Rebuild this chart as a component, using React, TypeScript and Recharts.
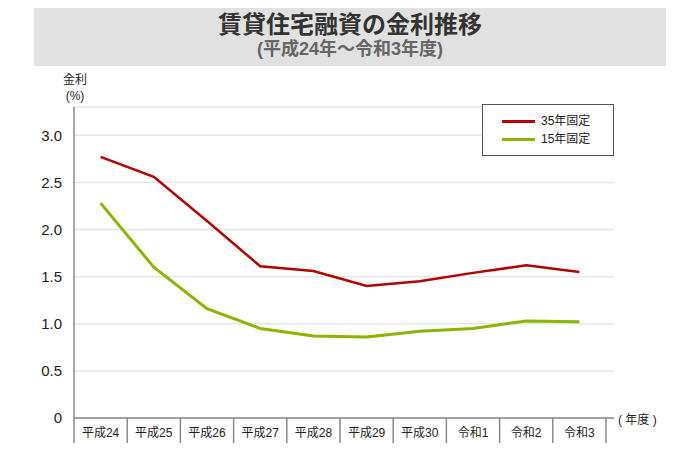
import React from "react";
import { CartesianGrid, Line, LineChart, XAxis, YAxis } from "recharts";

const years = ["平成24", "平成25", "平成26", "平成27", "平成28", "平成29", "平成30", "令和1", "令和2", "令和3"];
const fixed35 = [2.77, 2.56, 2.09, 1.61, 1.56, 1.40, 1.45, 1.54, 1.62, 1.55];
const fixed15 = [2.28, 1.60, 1.16, 0.95, 0.87, 0.86, 0.92, 0.95, 1.03, 1.02];
const yTicks = [0, 0.5, 1.0, 1.5, 2.0, 2.5, 3.0];

const data = years.map((year, i) => ({ year, r35: fixed35[i], r15: fixed15[i] }));

const FONT = "'Liberation Sans', 'Noto Sans CJK JP', sans-serif";
const RED = "#b30000";
const GREEN = "#8cb400";
const AXIS = "#8a8a8a";

function YearTick(props: any) {
  const { x, y, payload, index } = props;
  const half = payload && payload.offset ? payload.offset : 26.6;
  return (
    <g>
      {index === 0 && <line x1={x - half} x2={x - half} y1={y} y2={y + 25} stroke={AXIS} strokeWidth={1.5} />}
      <line x1={x + half} x2={x + half} y1={y} y2={y + 25} stroke={AXIS} strokeWidth={1.5} />
      <text x={x} y={y + 19} textAnchor="middle" fontSize={12} fill="#222" fontFamily={FONT}>
        {payload.value}
      </text>
    </g>
  );
}

function LegendRow({ color, label, top }: { color: string; label: string; top: number }) {
  return (
    <div style={{ position: "absolute", left: 19, top, display: "flex", alignItems: "center", height: 16 }}>
      <div style={{ width: 33, height: 3, background: color, marginRight: 6 }} />
      <span style={{ fontSize: 12, color: "#222", lineHeight: "16px" }}>{label}</span>
    </div>
  );
}

export default function App() {
  return (
    <div style={{ position: "absolute", left: 0, top: 0, width: 700, height: 450, background: "#fff", fontFamily: FONT }}>
      <div
        style={{
          position: "absolute",
          left: 34,
          top: 8,
          width: 632,
          height: 58,
          background: "#e1e1e1",
          textAlign: "center",
        }}
      >
        <div style={{ fontSize: 24, fontWeight: 700, color: "#333", lineHeight: "26px", marginTop: 4 }}>
          賃貸住宅融資の金利推移
        </div>
        <div style={{ fontSize: 18, fontWeight: 700, color: "#666", lineHeight: "22px", marginTop: 0 }}>
          (平成24年〜令和3年度)
        </div>
      </div>
      <div style={{ position: "absolute", left: 55, top: 72, width: 40, textAlign: "center", fontSize: 12, color: "#222", lineHeight: "16px" }}>
        <div>金利</div>
        <div>(%)</div>
      </div>
      <LineChart width={700} height={450} data={data} margin={{ top: 107, right: 86, bottom: 2, left: 34 }}>
        <CartesianGrid vertical={false} stroke="#e6e6e6" strokeWidth={1.5} />
        <XAxis
          dataKey="year"
          scale="band"
          height={30}
          axisLine={{ stroke: AXIS, strokeWidth: 1.5 }}
          tickLine={false}
          tickSize={0}
          tickMargin={0}
          padding={{ left: 0, right: 8 }}
          interval={0}
          tick={<YearTick />}
        />
        <YAxis
          type="number"
          domain={[0, 3.3]}
          ticks={yTicks}
          width={40}
          axisLine={{ stroke: AXIS, strokeWidth: 1.5 }}
          tickLine={false}
          tickMargin={6}
          tickFormatter={(v: number) => (v === 0 ? "0" : v.toFixed(1))}
          tick={{ fontSize: 15, fill: "#222", fontFamily: FONT }}
        />
        <Line type="linear" dataKey="r35" name="35年固定" stroke={RED} strokeWidth={2.5} dot={false} isAnimationActive={false} />
        <Line type="linear" dataKey="r15" name="15年固定" stroke={GREEN} strokeWidth={3} dot={false} isAnimationActive={false} />
      </LineChart>
      <div
        style={{
          position: "absolute",
          left: 482,
          top: 104,
          width: 130,
          height: 50,
          border: "1px solid #555",
          background: "#fff",
        }}
      >
        <LegendRow color={RED} label="35年固定" top={8} />
        <LegendRow color={GREEN} label="15年固定" top={26} />
      </div>
      <div style={{ position: "absolute", left: 618, top: 410, fontSize: 12, color: "#222", whiteSpace: "pre" }}>( 年度 )</div>
    </div>
  );
}
